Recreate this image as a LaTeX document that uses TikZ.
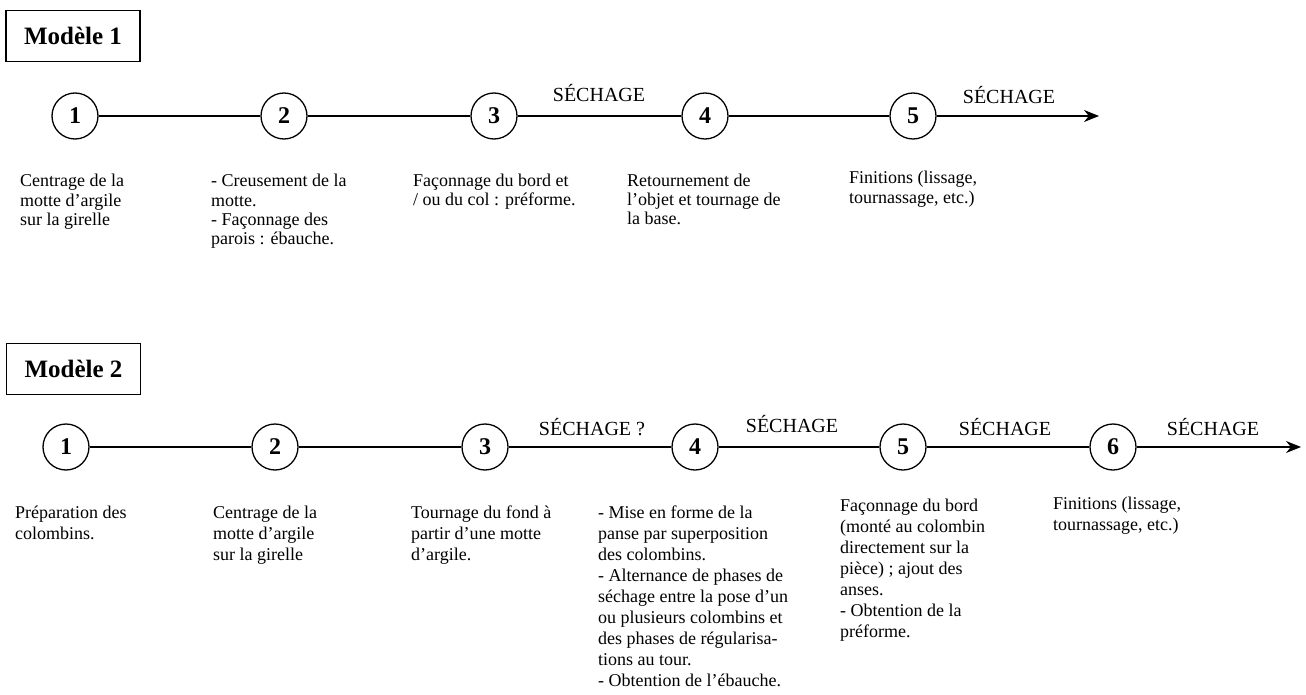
\documentclass[tikz,border=0pt]{standalone}
\usepackage{fontspec}
\setmainfont{Liberation Serif}
\usetikzlibrary{arrows.meta}
\newcommand{\desclines}[1]{\begin{tabular}[t]{@{}l@{}}#1\end{tabular}}
\begin{document}
\begin{tikzpicture}[x=1pt,y=-1pt,
  stepcirc/.style={circle,draw,line width=1.3pt,minimum size=46pt,inner sep=0pt,font=\fontsize{24}{26}\selectfont\bfseries},
  modbox/.style={draw,line width=1.5pt,minimum width=134pt,minimum height=51pt,inner sep=0pt,font=\fontsize{25}{28}\selectfont\bfseries},
  link/.style={line width=1.3pt},
  endlink/.style={link,-{Stealth[length=15pt,width=12pt]}},
  sech/.style={anchor=base,inner sep=0pt,font=\fontsize{20}{22}\selectfont},
  desc/.style={anchor=base west,inner sep=0pt,font=\fontsize{18}{19.3}\selectfont},
  descb/.style={anchor=base west,inner sep=0pt,font=\fontsize{18}{21}\selectfont},
]
\useasboundingbox (0,0) rectangle (1306,695);

% ---------- Modele 1 ----------
\node[modbox] (m1) at (73,36) {Modèle 1};
\node[stepcirc] (a1) at (75,116) {1};
\node[stepcirc] (a2) at (284,116) {2};
\node[stepcirc] (a3) at (494,116) {3};
\node[stepcirc] (a4) at (705,116) {4};
\node[stepcirc] (a5) at (913,116) {5};
\coordinate (aend) at (1099,116);
\draw[link] (a1) -- (a2);
\draw[link] (a2) -- (a3);
\draw[link] (a3) -- (a4);
\draw[link] (a4) -- (a5);
\draw[endlink] (a5) -- (aend);
\node[sech] (sa1) at (599,102) {SÉCHAGE};
\node[sech] (sa2) at (1009,104) {SÉCHAGE};

\node[desc] (ta1) at (20,187) {\desclines{Centrage de la\\motte d’argile\\sur la girelle}};
\node[desc] (ta2) at (211,187) {\desclines{- Creusement de la\\motte.\\- Façonnage des\\parois : ébauche.}};
\node[desc] (ta3) at (413,186) {\desclines{Façonnage du bord et\\/ ou du col : préforme.}};
\node[desc] (ta4) at (627,186) {\desclines{Retournement de\\l’objet et tournage de\\la base.}};
\node[desc] (ta5) at (849,184) {\desclines{Finitions (lissage,\\tournassage, etc.)}};

% ---------- Modele 2 ----------
\node[modbox] (m2) at (73.5,369) {Modèle 2};
\node[stepcirc] (b1) at (66,447) {1};
\node[stepcirc] (b2) at (275,447) {2};
\node[stepcirc] (b3) at (485,447) {3};
\node[stepcirc] (b4) at (695,447) {4};
\node[stepcirc] (b5) at (903,447) {5};
\node[stepcirc] (b6) at (1113,447) {6};
\coordinate (bend) at (1301,447);
\draw[link] (b1) -- (b2);
\draw[link] (b2) -- (b3);
\draw[link] (b3) -- (b4);
\draw[link] (b4) -- (b5);
\draw[link] (b5) -- (b6);
\draw[endlink] (b6) -- (bend);
\node[sech] (sb1) at (592,435) {SÉCHAGE ?};
\node[sech] (sb2) at (792,432) {SÉCHAGE};
\node[sech] (sb3) at (1005,435) {SÉCHAGE};
\node[sech] (sb4) at (1213,435) {SÉCHAGE};

\node[descb] (tb1) at (15,518) {\desclines{Préparation des\\colombins.}};
\node[descb] (tb2) at (213,518) {\desclines{Centrage de la\\motte d’argile\\sur la girelle}};
\node[descb] (tb3) at (411,518) {\desclines{Tournage du fond à\\partir d’une motte\\d’argile.}};
\node[descb] (tb4) at (598,518) {\desclines{- Mise en forme de la\\panse par superposition\\des colombins.\\- Alternance de phases de\\séchage entre la pose d’un\\ou plusieurs colombins et\\des phases de régularisa-\\tions au tour.\\- Obtention de l’ébauche.}};
\node[descb] (tb5) at (840,511) {\desclines{Façonnage du bord\\(monté au colombin\\directement sur la\\pièce) ; ajout des\\anses.\\- Obtention de la\\préforme.}};
\node[descb] (tb6) at (1053,509) {\desclines{Finitions (lissage,\\tournassage, etc.)}};
\end{tikzpicture}
\end{document}
